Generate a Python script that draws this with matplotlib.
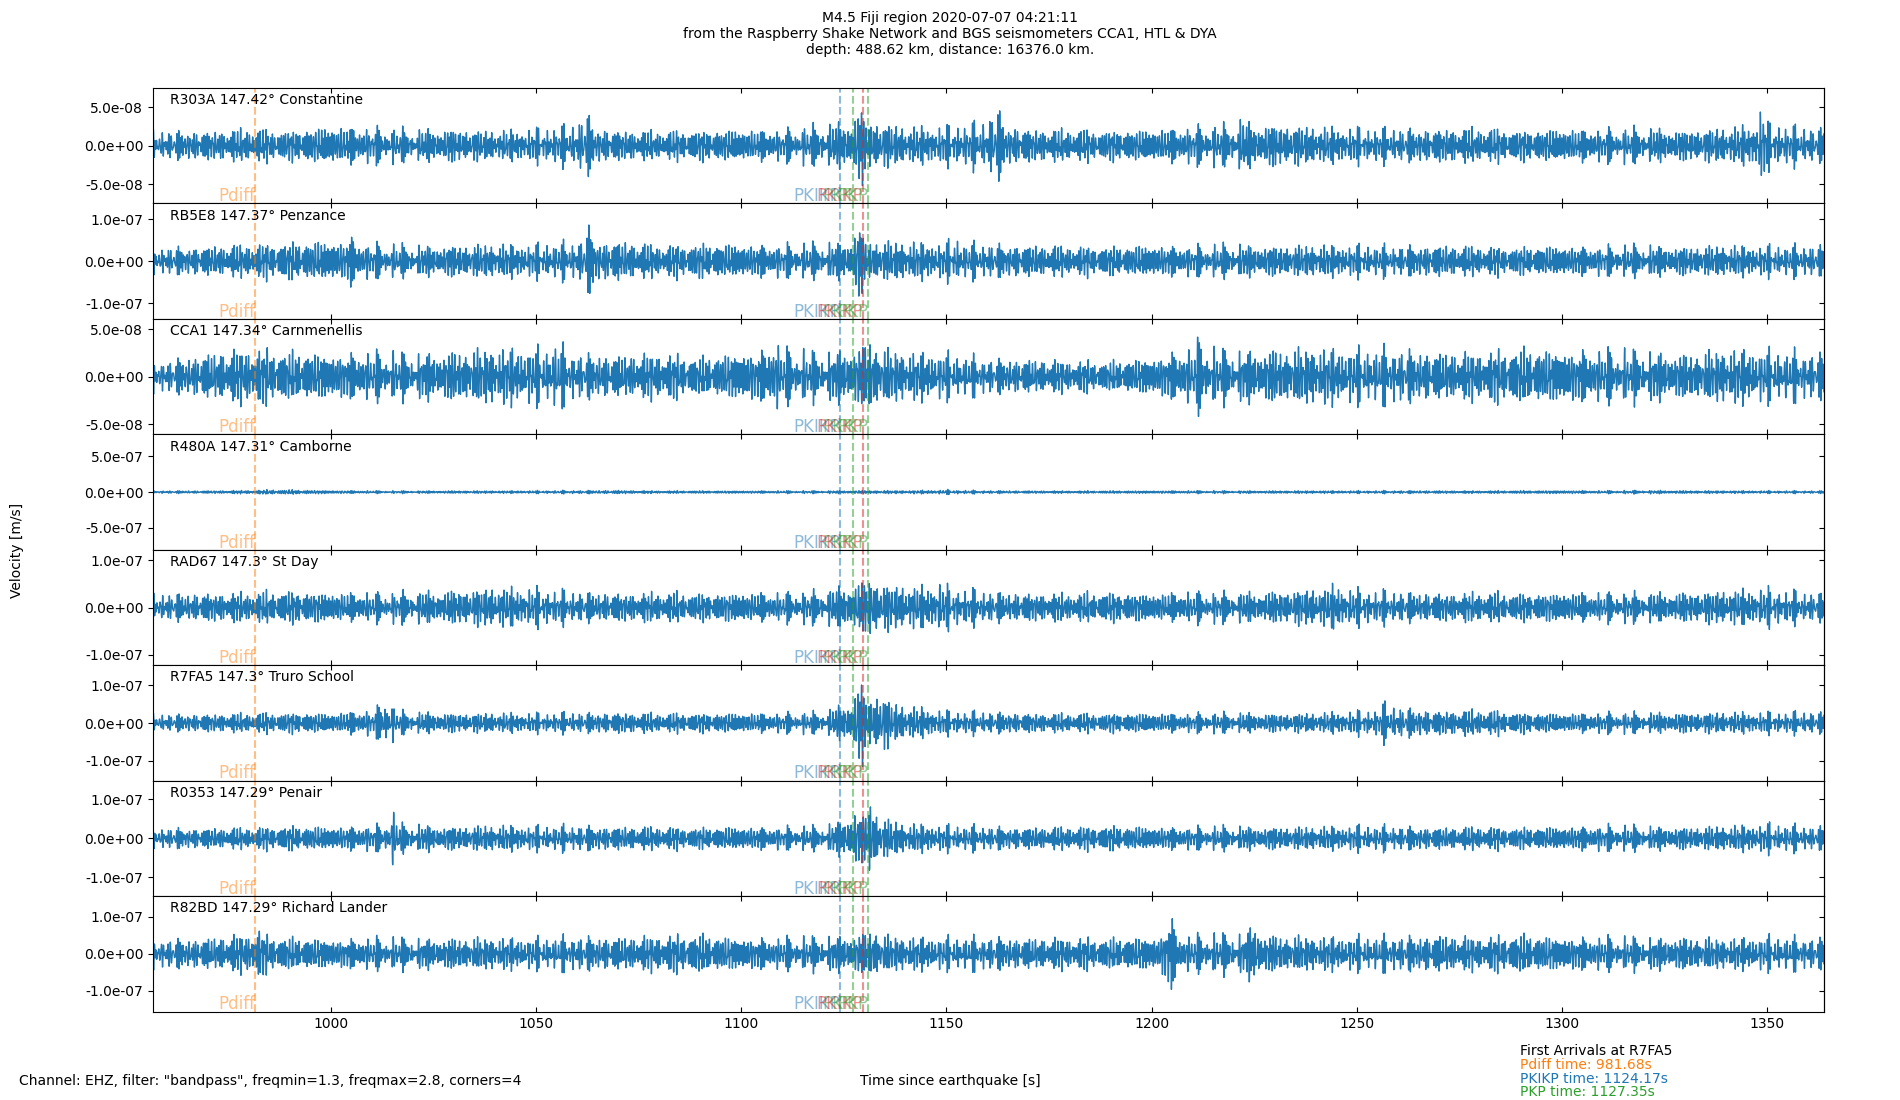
import numpy as np
from matplotlib import pyplot as plt
from matplotlib import transforms

FILE_NAME = "out.png"

TITLE = ("M4.5 Fiji region 2020-07-07 04:21:11\n"
         "from the Raspberry Shake Network and BGS seismometers CCA1, HTL & DYA\n"
         "depth: 488.62 km, distance: 16376.0 km.")
FOOTER = 'Channel: EHZ, filter: "bandpass", freqmin=1.3, freqmax=2.8, corners=4'
X_LABEL = "Time since earthquake [s]"
Y_LABEL = "Velocity [m/s]"

T_START = 956.7
T_END = 1363.8

STATIONS = ["R303A 147.42° Constantine", "RB5E8 147.37° Penzance",
            "CCA1 147.34° Carnmenellis", "R480A 147.31° Camborne",
            "RAD67 147.3° St Day", "R7FA5 147.3° Truro School",
            "R0353 147.29° Penair", "R82BD 147.29° Richard Lander"]

# y range and tick step of each panel, in 1e-8 m/s
Y_LIMS = [7.54, 13.8, 6.08, 80.5, 12.2, 15.3, 14.8, 15.6]
Y_TICKS = [5, 10, 5, 50, 10, 10, 10, 10]

# phase arrivals (seconds) drawn on every panel
PHASE_NAMES = ["Pdiff", "PKIKP", "PKP", "PKiKP", "PKP"]
PHASE_TIMES = [981.68, 1124.17, 1127.35, 1129.6, 1130.9]
PHASE_COLORS = ["C1", "C0", "C2", "C3", "C2"]

# amplitude envelope, every 10 s from 960 to 1360 (1e-8 m/s)
ENV_TIMES = [960, 970, 980, 990, 1000, 1010, 1020, 1030, 1040, 1050, 1060,
             1070, 1080, 1090, 1100, 1110, 1120, 1130, 1140, 1150, 1160,
             1170, 1180, 1190, 1200, 1210, 1220, 1230, 1240, 1250, 1260,
             1270, 1280, 1290, 1300, 1310, 1320, 1330, 1340, 1350, 1360]
ENV_R303A = [1.8, 1.9, 2.2, 2.0, 2.5, 2.3, 2.0, 2.2, 1.9, 2.1, 2.6,
             2.0, 1.9, 2.0, 2.1, 2.0, 2.6, 3.4, 2.4, 2.4, 3.0,
             2.2, 2.1, 2.0, 2.1, 2.4, 2.6, 2.8, 2.4, 2.2, 2.1,
             2.2, 2.3, 2.0, 2.2, 2.1, 2.2, 2.0, 2.3, 2.8, 2.2]
ENV_RB5E8 = [3.2, 3.5, 4.0, 4.5, 4.8, 4.0, 3.5, 3.8, 4.0, 3.8, 4.5,
             4.8, 3.8, 4.2, 4.0, 3.8, 4.0, 5.0, 4.5, 4.2, 4.0,
             3.8, 3.6, 3.5, 3.8, 3.5, 3.8, 3.6, 3.8, 3.6, 3.5,
             3.8, 3.5, 3.4, 3.6, 3.4, 3.6, 3.5, 3.7, 3.5, 3.6]
ENV_CCA1 = [1.6, 2.4, 3.0, 2.6, 2.4, 2.5, 2.3, 2.6, 3.0, 2.8, 2.4,
            2.2, 2.5, 2.0, 2.6, 2.8, 2.4, 3.2, 2.6, 2.3, 1.8,
            1.8, 1.7, 1.6, 2.0, 3.0, 2.6, 2.8, 3.0, 2.7, 2.8,
            2.5, 2.6, 2.9, 2.8, 2.7, 2.6, 2.3, 2.9, 2.6, 2.4]
ENV_R480A = [1.8, 1.8, 2.5, 3.2, 2.2, 1.8, 1.7, 1.8, 1.8, 1.9, 2.2,
             2.4, 1.8, 1.8, 1.7, 1.8, 1.9, 2.2, 2.2, 2.8, 2.0,
             1.8, 1.7, 1.8, 1.8, 1.9, 1.8, 1.8, 1.9, 1.8, 2.0,
             1.9, 1.8, 2.0, 2.2, 1.9, 2.4, 2.0, 1.9, 1.8, 1.8]
ENV_RAD67 = [2.8, 3.0, 3.2, 3.5, 3.2, 3.0, 3.2, 3.6, 4.2, 3.8, 3.2,
             3.0, 3.2, 3.0, 3.2, 3.0, 3.4, 5.5, 4.5, 4.2, 3.2,
             3.0, 3.0, 3.2, 3.0, 3.2, 3.0, 3.4, 4.0, 3.6, 3.2,
             3.0, 3.2, 3.0, 3.2, 3.0, 3.0, 3.2, 3.6, 3.8, 3.0]
ENV_R7FA5 = [2.2, 2.4, 2.6, 2.8, 2.6, 3.5, 2.8, 2.6, 2.6, 2.5, 2.6,
             2.8, 2.6, 2.6, 2.7, 2.6, 2.8, 7.0, 4.5, 3.0, 2.8,
             2.6, 2.5, 2.6, 2.6, 2.5, 2.6, 2.5, 2.6, 3.0, 4.0,
             3.2, 3.5, 2.8, 2.6, 2.7, 2.6, 2.7, 2.8, 2.7, 2.8]
ENV_R0353 = [2.6, 2.6, 2.8, 3.2, 3.0, 3.2, 3.5, 3.0, 3.4, 3.0, 3.2,
             3.0, 3.0, 2.8, 3.0, 2.8, 3.0, 6.5, 3.8, 3.2, 3.0,
             2.8, 3.0, 3.2, 3.0, 2.8, 3.0, 2.9, 3.0, 3.1, 3.0,
             2.8, 3.0, 2.8, 3.0, 3.2, 3.0, 2.9, 3.2, 3.6, 3.0]
ENV_R82BD = [3.8, 4.2, 5.5, 4.4, 4.0, 4.2, 4.0, 4.2, 4.4, 4.0, 4.6,
             4.4, 5.0, 5.2, 4.4, 4.2, 4.4, 5.5, 4.6, 4.2, 4.4,
             4.2, 4.4, 4.2, 4.6, 4.8, 5.2, 5.0, 4.6, 4.4, 4.6,
             5.0, 4.6, 5.2, 4.6, 4.4, 4.2, 4.4, 4.2, 4.4, 4.2]
ENVELOPES = [ENV_R303A, ENV_RB5E8, ENV_CCA1, ENV_R480A,
             ENV_RAD67, ENV_R7FA5, ENV_R0353, ENV_R82BD]

# short bursts seen on each trace: (time s, peak 1e-8 m/s)
BURSTS = [[(1062, 4.5), (1129.5, 5.5), (1162, 5.2), (1222, 3.5), (1349, 5.3)],
          [(1005, 6.0), (1063, 8.0), (1129, 10.0), (1152, 5.5)],
          [(1055, 3.6), (1108, 4.0), (1131, 4.2), (1212, 3.9)],
          [(986, 3.5), (1150, 3.0)],
          [(1131, 7.0), (1148, 5.2), (1245, 5.0)],
          [(1013.5, 7.5), (1129.5, 12.5), (1134, 9.0), (1257, 5.0)],
          [(1015, 6.5), (1128, 8.0), (1131, 11.0)],
          [(982, 7.0), (1132, 7.0), (1204.5, 10.5), (1225, 8.5)]]

# carrier: a few tones inside the 1.3-2.8 Hz passband
CARRIER_FREQS = [1.31, 1.47, 1.62, 1.79, 1.93, 2.11, 2.27, 2.44, 2.58, 2.73]

ARRIVAL_LINES = [("First Arrivals at R7FA5", "black"),
                 ("Pdiff time: 981.68s", "C1"),
                 ("PKIKP time: 1124.17s", "C0"),
                 ("PKP time: 1127.35s", "C2")]


def envelope(t, i):
    kt = list(ENV_TIMES)
    ka = list(ENVELOPES[i])
    for bt, ba in BURSTS[i]:
        for dt in (-2.5, 2.5):
            kt.append(bt + dt)
            ka.append(np.interp(bt + dt, ENV_TIMES, ENVELOPES[i]))
        kt.append(bt)
        ka.append(ba)
    order = np.argsort(kt)
    return np.interp(t, np.array(kt)[order], np.array(ka)[order])


def trace(t, i):
    s = np.zeros_like(t)
    for k, f in enumerate(CARRIER_FREQS):
        s += np.sin(2 * np.pi * f * t + (k * 2.39996 + i * 1.234 + k * k * 0.37))
    s = s / (np.std(s) * 2.2)
    return envelope(t, i) * s * 1e-8


t = np.arange(T_START, T_END, 0.04)

fig, ax = plt.subplots(nrows=len(STATIONS), ncols=1, sharex=True, figsize=(19, 11), dpi=100)
fig.subplots_adjust(left=0.0805, right=0.960, top=0.92, bottom=0.0803, hspace=0)

for i, axis in enumerate(ax):
    axis.plot(t, trace(t, i), color="C0", lw=1)
    lim = Y_LIMS[i] * 1e-8
    step = Y_TICKS[i] * 1e-8
    axis.set_ylim(-lim, lim)
    axis.set_xlim(T_START, T_END)
    axis.set_yticks([-step, 0, step])
    axis.set_yticklabels(["%.1e" % v for v in [-step, 0, step]])
    axis.tick_params(axis="x", direction="in", top=True, bottom=True)
    right = axis.secondary_yaxis("right")
    right.set_yticks([-step, 0, step])
    right.tick_params(direction="in", labelright=False)
    axis.text(0.01, 0.955, STATIONS[i], transform=axis.transAxes, ha="left", va="top", fontsize=10)
    trans = transforms.blended_transform_factory(axis.transData, axis.transAxes)
    for name, pt, col in zip(PHASE_NAMES, PHASE_TIMES, PHASE_COLORS):
        axis.axvline(pt, color=col, ls="--", lw=1.5, alpha=0.5)
        axis.text(pt, -0.015, name, transform=trans, color=col, alpha=0.5,
                  ha="right", va="bottom", fontsize=12)

ax[-1].set_xticks([1000, 1050, 1100, 1150, 1200, 1250, 1300, 1350])

fig.suptitle(TITLE, y=0.99, fontsize=10)
fig.text(0.009, 0.5, Y_LABEL, ha="center", va="center", rotation=90, fontsize=10)
fig.text(0.01, 0.017, FOOTER, ha="left", va="center", fontsize=10)
fig.text(0.5, 0.017, X_LABEL, ha="center", va="center", fontsize=10)
for n, (txt, col) in enumerate(ARRIVAL_LINES):
    fig.text(0.8, 0.0445 - n * 0.0125, txt, color=col, ha="left", va="center", fontsize=10)

plt.savefig(FILE_NAME)
